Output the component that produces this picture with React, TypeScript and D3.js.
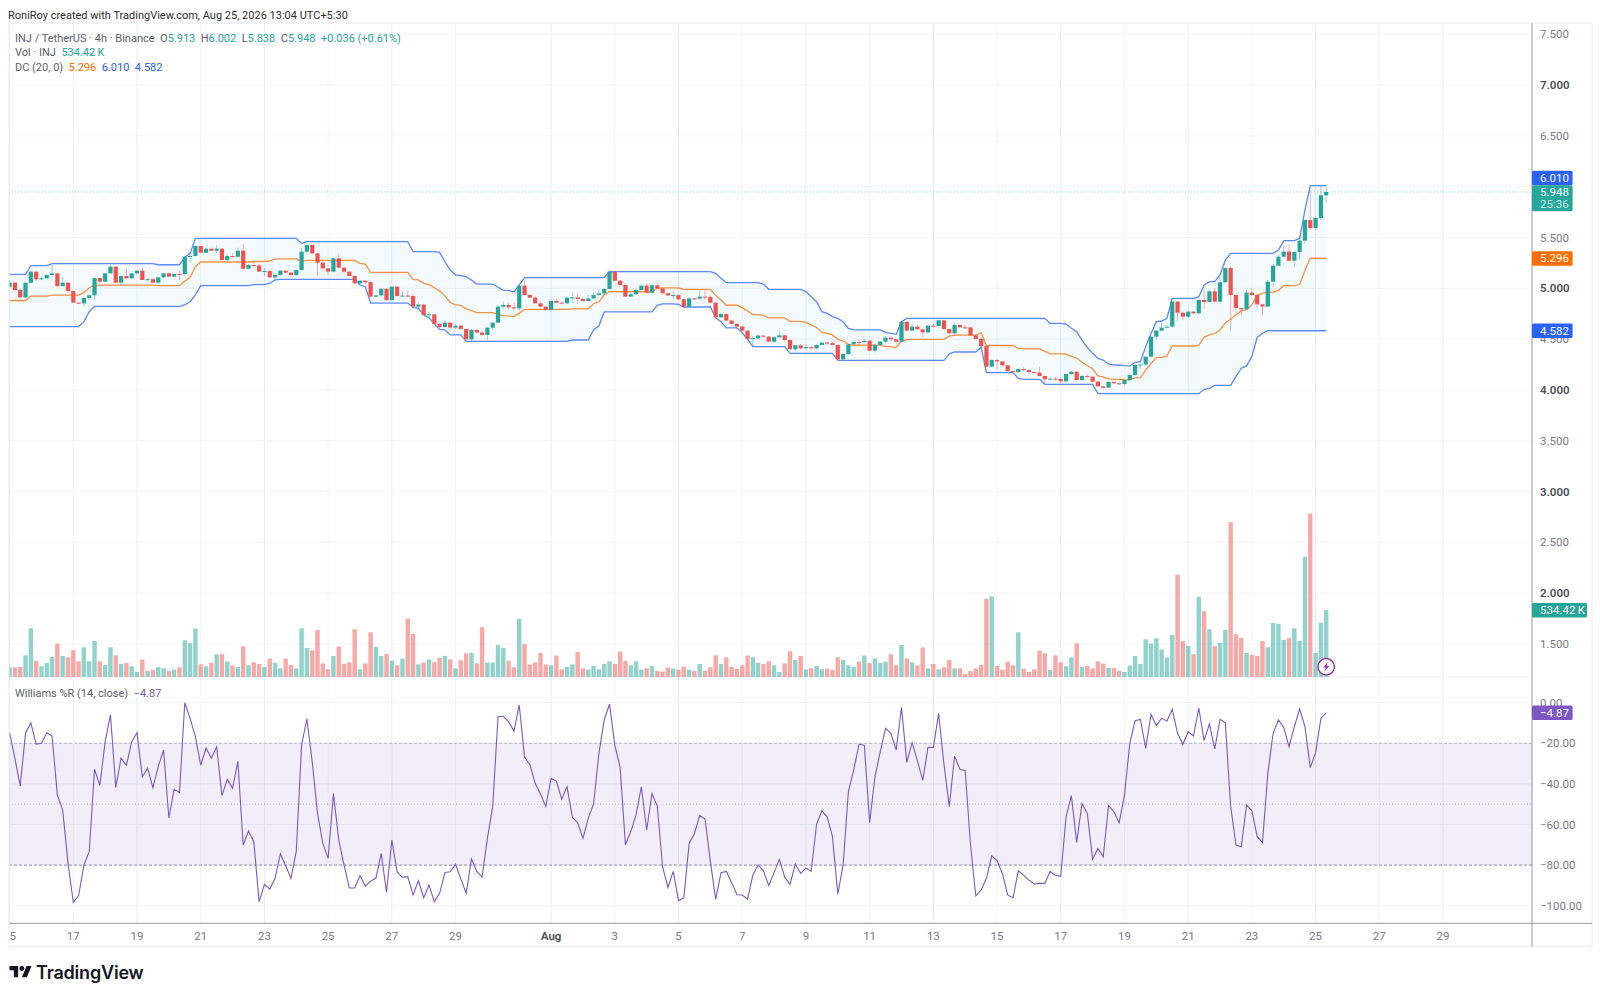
import React, { useRef, useEffect } from "react";
import * as d3 from "d3";

// 4h candles. open = previous close
const firstOpen = 5.016;
const closes = [
  5.055, 4.983, 4.911, 5.055, 5.164, 5.088, 5.098, 5.131, 5.147, 5.022,
  5.055, 4.973, 4.859, 4.852, 4.904, 4.931, 5.101, 5.065, 5.147, 5.213,
  5.055, 5.121, 5.098, 5.147, 5.173, 5.082, 5.09, 5.055, 5.108, 5.147,
  5.115, 5.141, 5.14, 5.311, 5.318, 5.416, 5.35, 5.39, 5.37, 5.39,
  5.278, 5.318, 5.31, 5.37, 5.193, 5.229, 5.225, 5.164, 5.17, 5.108,
  5.131, 5.173, 5.154, 5.131, 5.18, 5.36, 5.426, 5.344, 5.252, 5.196,
  5.164, 5.295, 5.203, 5.164, 5.121, 5.049, 5.075, 5.06, 4.918, 4.93,
  4.996, 4.885, 5.016, 4.924, 4.928, 4.925, 4.82, 4.84, 4.737, 4.744,
  4.649, 4.619, 4.662, 4.613, 4.632, 4.6, 4.498, 4.59, 4.564, 4.541,
  4.613, 4.662, 4.819, 4.836, 4.813, 4.803, 5.026, 4.934, 4.908, 4.852,
  4.819, 4.787, 4.875, 4.859, 4.852, 4.908, 4.911, 4.895, 4.875, 4.9,
  4.934, 4.95, 4.993, 5.164, 5.075, 5.033, 4.918, 4.941, 4.983, 5.026,
  4.957, 5.03, 5.0, 4.951, 4.93, 4.933, 4.892, 4.819, 4.9, 4.898,
  4.918, 4.915, 4.859, 4.714, 4.747, 4.682, 4.649, 4.623, 4.583, 4.501,
  4.51, 4.534, 4.524, 4.475, 4.518, 4.537, 4.491, 4.4, 4.439, 4.409,
  4.42, 4.409, 4.442, 4.465, 4.46, 4.442, 4.301, 4.353, 4.448, 4.471,
  4.47, 4.484, 4.386, 4.442, 4.475, 4.514, 4.498, 4.475, 4.671, 4.583,
  4.622, 4.596, 4.566, 4.632, 4.63, 4.685, 4.599, 4.557, 4.639, 4.616,
  4.615, 4.537, 4.501, 4.432, 4.229, 4.294, 4.281, 4.242, 4.186, 4.176,
  4.206, 4.196, 4.176, 4.17, 4.137, 4.104, 4.11, 4.107, 4.084, 4.156,
  4.179, 4.097, 4.137, 4.13, 4.081, 4.035, 4.022, 4.078, 4.065, 4.058,
  4.097, 4.147, 4.245, 4.25, 4.327, 4.524, 4.583, 4.613, 4.623, 4.869,
  4.76, 4.721, 4.77, 4.754, 4.885, 4.865, 4.97, 4.869, 5.059, 5.2,
  4.934, 4.806, 4.793, 4.957, 4.934, 4.842, 4.82, 5.065, 5.223, 5.311,
  5.361, 5.272, 5.357, 5.469, 5.672, 5.593, 5.692, 5.915, 5.948,
];
const highs = [
  5.08, 5.06, 4.99, 5.06, 5.17, 5.165, 5.115, 5.14, 5.23, 5.15,
  5.11, 5.06, 4.975, 4.86, 4.905, 4.94, 5.105, 5.105, 5.15, 5.23,
  5.215, 5.125, 5.19, 5.15, 5.18, 5.2, 5.1, 5.1, 5.11, 5.15,
  5.155, 5.145, 5.17, 5.315, 5.36, 5.42, 5.42, 5.395, 5.4, 5.425,
  5.395, 5.33, 5.345, 5.4, 5.435, 5.24, 5.27, 5.24, 5.2, 5.18,
  5.14, 5.18, 5.175, 5.16, 5.185, 5.4, 5.43, 5.43, 5.35, 5.27,
  5.2, 5.3, 5.345, 5.21, 5.17, 5.13, 5.08, 5.08, 5.07, 4.94,
  5.0, 5.0, 5.02, 5.02, 4.97, 4.98, 4.945, 4.86, 4.84, 4.77,
  4.745, 4.655, 4.69, 4.665, 4.65, 4.64, 4.6, 4.6, 4.6, 4.58,
  4.62, 4.665, 4.825, 4.87, 4.86, 4.86, 5.03, 5.08, 4.94, 4.92,
  4.86, 4.825, 4.885, 4.9, 4.87, 4.915, 4.96, 4.95, 4.91, 4.935,
  4.96, 4.99, 5.0, 5.17, 5.17, 5.08, 5.04, 4.96, 5.0, 5.04,
  5.05, 5.04, 5.05, 5.01, 4.96, 4.97, 4.94, 4.895, 4.91, 4.91,
  4.98, 4.98, 4.93, 4.865, 4.76, 4.75, 4.69, 4.66, 4.63, 4.59,
  4.53, 4.55, 4.54, 4.53, 4.525, 4.58, 4.54, 4.495, 4.44, 4.45,
  4.45, 4.43, 4.45, 4.475, 4.475, 4.47, 4.445, 4.36, 4.455, 4.485,
  4.5, 4.5, 4.49, 4.45, 4.48, 4.53, 4.525, 4.5, 4.68, 4.675,
  4.665, 4.64, 4.6, 4.635, 4.65, 4.69, 4.69, 4.6, 4.66, 4.645,
  4.64, 4.62, 4.55, 4.52, 4.44, 4.3, 4.3, 4.285, 4.25, 4.195,
  4.21, 4.225, 4.2, 4.18, 4.23, 4.14, 4.13, 4.13, 4.115, 4.16,
  4.19, 4.18, 4.145, 4.15, 4.135, 4.085, 4.04, 4.085, 4.08, 4.08,
  4.1, 4.15, 4.25, 4.26, 4.33, 4.53, 4.59, 4.66, 4.64, 4.88,
  4.87, 4.77, 4.775, 4.775, 4.89, 4.98, 4.985, 5.0, 5.11, 5.205,
  5.215, 4.935, 4.81, 4.99, 5.0, 4.945, 4.85, 5.085, 5.24, 5.33,
  5.42, 5.43, 5.365, 5.52, 5.68, 5.965, 5.7, 6.01, 6.002,
];
const lows = [
  5.0, 4.97, 4.9, 4.905, 5.05, 5.07, 5.08, 5.09, 5.115, 5.015,
  5.02, 4.965, 4.855, 4.845, 4.825, 4.885, 4.885, 5.06, 5.06, 5.145,
  5.05, 5.03, 5.09, 5.095, 5.14, 5.08, 5.07, 5.05, 5.05, 5.1,
  5.11, 5.11, 5.08, 5.12, 5.25, 5.315, 5.345, 5.345, 5.365, 5.345,
  5.27, 5.265, 5.3, 5.305, 5.19, 5.19, 5.215, 5.16, 5.13, 5.1,
  5.09, 5.125, 5.15, 5.12, 5.12, 5.175, 5.35, 5.335, 5.12, 5.185,
  5.13, 5.155, 5.19, 5.15, 5.11, 5.04, 5.04, 5.05, 4.91, 4.91,
  4.92, 4.875, 4.88, 4.915, 4.92, 4.91, 4.815, 4.8, 4.73, 4.7,
  4.64, 4.61, 4.61, 4.605, 4.6, 4.59, 4.49, 4.48, 4.555, 4.535,
  4.49, 4.59, 4.66, 4.8, 4.79, 4.79, 4.78, 4.93, 4.9, 4.85,
  4.81, 4.78, 4.77, 4.85, 4.84, 4.85, 4.85, 4.85, 4.87, 4.87,
  4.895, 4.92, 4.93, 4.99, 5.07, 5.03, 4.915, 4.92, 4.94, 4.98,
  4.95, 4.95, 4.995, 4.945, 4.925, 4.89, 4.885, 4.81, 4.81, 4.89,
  4.89, 4.885, 4.855, 4.71, 4.71, 4.675, 4.645, 4.615, 4.575, 4.495,
  4.42, 4.5, 4.51, 4.47, 4.465, 4.51, 4.485, 4.39, 4.385, 4.4,
  4.4, 4.39, 4.4, 4.44, 4.44, 4.435, 4.295, 4.295, 4.345, 4.44,
  4.44, 4.46, 4.38, 4.37, 4.43, 4.46, 4.47, 4.46, 4.47, 4.58,
  4.58, 4.59, 4.52, 4.56, 4.61, 4.63, 4.595, 4.55, 4.55, 4.61,
  4.6, 4.53, 4.495, 4.425, 4.225, 4.225, 4.2, 4.235, 4.18, 4.17,
  4.165, 4.185, 4.155, 4.16, 4.13, 4.065, 4.1, 4.1, 4.06, 4.08,
  4.15, 4.09, 4.09, 4.12, 4.075, 4.03, 4.015, 4.02, 4.055, 4.05,
  4.05, 4.09, 4.14, 4.21, 4.235, 4.32, 4.5, 4.58, 4.61, 4.62,
  4.68, 4.69, 4.715, 4.745, 4.74, 4.8, 4.865, 4.86, 4.85, 5.05,
  4.59, 4.75, 4.73, 4.79, 4.93, 4.8, 4.74, 4.82, 5.01, 5.22,
  5.35, 5.265, 5.21, 5.285, 5.44, 5.58, 5.58, 5.67, 5.838,
];
// Donchian channel, 20
const dcUpper = [
  5.137, 5.137, 5.137, 5.137, 5.223, 5.223, 5.223, 5.223, 5.242, 5.242,
  5.242, 5.242, 5.242, 5.242, 5.242, 5.242, 5.242, 5.242, 5.242, 5.242,
  5.242, 5.242, 5.242, 5.242, 5.242, 5.242, 5.242, 5.242, 5.232, 5.232,
  5.232, 5.232, 5.232, 5.305, 5.344, 5.492, 5.492, 5.492, 5.492, 5.492,
  5.492, 5.492, 5.492, 5.492, 5.492, 5.492, 5.492, 5.492, 5.492, 5.492,
  5.492, 5.492, 5.492, 5.492, 5.492, 5.442, 5.459, 5.459, 5.459, 5.459,
  5.459, 5.459, 5.459, 5.459, 5.459, 5.459, 5.459, 5.459, 5.459, 5.459,
  5.459, 5.459, 5.459, 5.459, 5.459, 5.459, 5.36, 5.36, 5.36, 5.36,
  5.36, 5.354, 5.262, 5.18, 5.131, 5.125, 5.115, 5.082, 5.042, 5.042,
  5.042, 5.042, 5.01, 4.983, 4.98, 4.964, 5.033, 5.105, 5.105, 5.105,
  5.105, 5.105, 5.105, 5.105, 5.105, 5.105, 5.105, 5.105, 5.105, 5.105,
  5.105, 5.105, 5.105, 5.164, 5.164, 5.164, 5.164, 5.164, 5.164, 5.164,
  5.164, 5.164, 5.164, 5.164, 5.164, 5.164, 5.164, 5.164, 5.164, 5.164,
  5.164, 5.164, 5.164, 5.148, 5.098, 5.056, 5.056, 5.056, 5.056, 5.056,
  5.056, 5.056, 5.042, 4.99, 4.99, 4.99, 4.99, 4.99, 4.99, 4.99,
  4.967, 4.917, 4.868, 4.77, 4.753, 4.721, 4.704, 4.671, 4.606, 4.59,
  4.59, 4.59, 4.59, 4.59, 4.59, 4.566, 4.557, 4.547, 4.671, 4.704,
  4.704, 4.704, 4.704, 4.704, 4.704, 4.704, 4.704, 4.704, 4.704, 4.704,
  4.704, 4.704, 4.704, 4.704, 4.704, 4.704, 4.704, 4.704, 4.704, 4.704,
  4.704, 4.704, 4.704, 4.704, 4.704, 4.704, 4.655, 4.655, 4.655, 4.648,
  4.606, 4.573, 4.491, 4.419, 4.36, 4.311, 4.294, 4.255, 4.245, 4.245,
  4.238, 4.235, 4.272, 4.278, 4.426, 4.557, 4.672, 4.678, 4.705, 4.901,
  4.901, 4.901, 4.901, 4.901, 4.918, 5.033, 5.065, 5.065, 5.131, 5.279,
  5.344, 5.344, 5.344, 5.344, 5.344, 5.344, 5.344, 5.344, 5.344, 5.377,
  5.469, 5.469, 5.469, 5.492, 5.771, 6.01, 6.01, 6.01, 6.01,
];
const dcMiddle = [
  4.88, 4.88, 4.88, 4.88, 4.923, 4.923, 4.923, 4.923, 4.932, 4.932,
  4.932, 4.932, 4.932, 4.932, 4.957, 5.006, 5.032, 5.032, 5.032, 5.032,
  5.032, 5.032, 5.032, 5.032, 5.032, 5.032, 5.032, 5.032, 5.027, 5.027,
  5.027, 5.027, 5.027, 5.071, 5.106, 5.213, 5.259, 5.259, 5.259, 5.259,
  5.259, 5.259, 5.259, 5.259, 5.259, 5.259, 5.264, 5.264, 5.264, 5.271,
  5.287, 5.29, 5.29, 5.29, 5.29, 5.265, 5.274, 5.274, 5.274, 5.274,
  5.274, 5.274, 5.274, 5.274, 5.274, 5.274, 5.246, 5.238, 5.157, 5.157,
  5.157, 5.157, 5.157, 5.157, 5.157, 5.157, 5.087, 5.082, 5.049, 5.036,
  5.005, 4.975, 4.926, 4.861, 4.836, 4.833, 4.797, 4.78, 4.76, 4.76,
  4.76, 4.76, 4.744, 4.731, 4.729, 4.721, 4.756, 4.792, 4.792, 4.792,
  4.792, 4.792, 4.792, 4.792, 4.792, 4.792, 4.798, 4.798, 4.798, 4.798,
  4.848, 4.867, 4.936, 4.966, 4.966, 4.966, 4.966, 4.966, 4.966, 4.966,
  4.966, 4.966, 4.999, 5.005, 5.005, 5.005, 5.003, 4.99, 4.99, 4.99,
  4.99, 4.99, 4.99, 4.93, 4.885, 4.833, 4.833, 4.833, 4.81, 4.777,
  4.741, 4.741, 4.734, 4.708, 4.708, 4.708, 4.708, 4.675, 4.675, 4.675,
  4.664, 4.639, 4.614, 4.565, 4.557, 4.541, 4.498, 4.481, 4.449, 4.441,
  4.441, 4.441, 4.441, 4.441, 4.441, 4.429, 4.424, 4.419, 4.481, 4.498,
  4.498, 4.498, 4.498, 4.498, 4.498, 4.498, 4.498, 4.529, 4.539, 4.539,
  4.539, 4.539, 4.539, 4.562, 4.437, 4.437, 4.437, 4.437, 4.437, 4.437,
  4.409, 4.404, 4.404, 4.404, 4.404, 4.38, 4.355, 4.355, 4.355, 4.352,
  4.331, 4.314, 4.273, 4.237, 4.208, 4.137, 4.129, 4.109, 4.104, 4.104,
  4.101, 4.099, 4.118, 4.121, 4.195, 4.26, 4.318, 4.321, 4.334, 4.432,
  4.432, 4.432, 4.432, 4.432, 4.441, 4.52, 4.541, 4.555, 4.588, 4.662,
  4.695, 4.737, 4.779, 4.79, 4.836, 4.931, 4.951, 4.963, 4.963, 4.98,
  5.026, 5.026, 5.026, 5.037, 5.177, 5.296, 5.296, 5.296, 5.296,
];
const dcLower = [
  4.622, 4.622, 4.622, 4.622, 4.622, 4.622, 4.622, 4.622, 4.622, 4.622,
  4.622, 4.622, 4.622, 4.622, 4.672, 4.77, 4.822, 4.822, 4.822, 4.822,
  4.822, 4.822, 4.822, 4.822, 4.822, 4.822, 4.822, 4.822, 4.822, 4.822,
  4.822, 4.822, 4.822, 4.836, 4.868, 4.934, 5.026, 5.026, 5.026, 5.026,
  5.026, 5.026, 5.026, 5.026, 5.026, 5.026, 5.036, 5.036, 5.036, 5.05,
  5.082, 5.088, 5.088, 5.088, 5.088, 5.088, 5.088, 5.088, 5.088, 5.088,
  5.088, 5.088, 5.088, 5.088, 5.088, 5.088, 5.032, 5.016, 4.855, 4.855,
  4.855, 4.855, 4.855, 4.855, 4.855, 4.855, 4.813, 4.803, 4.737, 4.711,
  4.649, 4.596, 4.59, 4.541, 4.541, 4.541, 4.478, 4.478, 4.478, 4.478,
  4.478, 4.478, 4.478, 4.478, 4.478, 4.478, 4.478, 4.478, 4.478, 4.478,
  4.478, 4.478, 4.478, 4.478, 4.478, 4.478, 4.491, 4.491, 4.491, 4.491,
  4.59, 4.629, 4.767, 4.767, 4.767, 4.767, 4.767, 4.767, 4.767, 4.767,
  4.767, 4.767, 4.833, 4.846, 4.846, 4.846, 4.842, 4.816, 4.816, 4.816,
  4.816, 4.816, 4.816, 4.711, 4.672, 4.61, 4.61, 4.61, 4.564, 4.498,
  4.426, 4.426, 4.426, 4.426, 4.426, 4.426, 4.426, 4.36, 4.36, 4.36,
  4.36, 4.36, 4.36, 4.36, 4.36, 4.36, 4.291, 4.291, 4.291, 4.291,
  4.291, 4.291, 4.291, 4.291, 4.291, 4.291, 4.291, 4.291, 4.291, 4.291,
  4.291, 4.291, 4.291, 4.291, 4.291, 4.291, 4.291, 4.353, 4.373, 4.373,
  4.373, 4.373, 4.373, 4.419, 4.17, 4.17, 4.17, 4.17, 4.17, 4.17,
  4.114, 4.104, 4.104, 4.104, 4.104, 4.055, 4.055, 4.055, 4.055, 4.055,
  4.055, 4.055, 4.055, 4.055, 4.055, 3.963, 3.963, 3.963, 3.963, 3.963,
  3.963, 3.963, 3.963, 3.963, 3.963, 3.963, 3.963, 3.963, 3.963, 3.963,
  3.963, 3.963, 3.963, 3.963, 3.963, 4.006, 4.016, 4.045, 4.045, 4.045,
  4.045, 4.13, 4.213, 4.236, 4.327, 4.518, 4.557, 4.582, 4.582, 4.582,
  4.582, 4.582, 4.582, 4.582, 4.582, 4.582, 4.582, 4.582, 4.582,
];
// volume in thousands of INJ
const volumes = [
  77, 77, 80, 173, 389, 128, 85, 112, 160, 267,
  168, 157, 213, 125, 237, 125, 288, 125, 96, 237,
  173, 104, 112, 85, 40, 139, 48, 56, 80, 69,
  48, 59, 77, 293, 269, 387, 101, 85, 115, 181,
  181, 123, 91, 80, 245, 93, 117, 104, 80, 147,
  112, 69, 147, 96, 69, 389, 232, 213, 376, 109,
  61, 168, 243, 104, 117, 381, 61, 109, 357, 240,
  168, 184, 131, 93, 147, 467, 344, 101, 115, 139,
  117, 152, 168, 141, 69, 133, 189, 192, 109, 397,
  115, 115, 256, 232, 128, 77, 464, 261, 99, 117,
  192, 99, 93, 171, 61, 80, 101, 200, 69, 59,
  88, 61, 104, 125, 104, 203, 128, 93, 125, 59,
  69, 88, 48, 43, 75, 67, 59, 83, 59, 48,
  104, 48, 77, 173, 104, 157, 80, 64, 93, 171,
  157, 112, 104, 125, 93, 40, 109, 205, 136, 168,
  59, 69, 88, 61, 67, 56, 157, 136, 93, 80,
  123, 171, 112, 147, 112, 123, 181, 93, 256, 149,
  117, 91, 235, 69, 104, 61, 77, 136, 69, 69,
  24, 48, 67, 96, 624, 643, 88, 59, 123, 93,
  357, 67, 40, 61, 211, 189, 56, 173, 117, 85,
  157, 269, 80, 88, 69, 125, 107, 72, 72, 48,
  40, 91, 168, 104, 301, 267, 309, 221, 155, 336,
  816, 285, 248, 181, 640, 525, 381, 245, 272, 376,
  1235, 341, 312, 192, 176, 168, 285, 237, 432, 424,
  296, 312, 389, 288, 960, 1304, 192, 432, 534.42,
];
const williams = [
  -14.8, -27.4, -41, -15, -9.9, -20.4, -20, -14.8, -16.4, -45.5,
  -52.9, -79, -98.4, -95, -80, -73.4, -32.8, -40.7, -19.2, -5.9,
  -41.7, -27.3, -30.9, -19.2, -14.8, -36.5, -32.3, -41.9, -31.5, -23.3,
  -56.8, -42.7, -44.3, 0, -7.7, -16.7, -30.7, -22.3, -27.4, -21.8,
  -45.8, -37.8, -42.2, -28.9, -70.1, -63.1, -68.5, -98, -89.5, -91.8,
  -86.5, -74.5, -80.3, -86.5, -73.1, -20.9, -7.9, -29.1, -54.5, -69.3,
  -76.7, -44.7, -67.7, -80, -91.3, -91.3, -85.1, -90.3, -87.9, -86.4,
  -74.2, -93.4, -67.7, -83.4, -86, -85.7, -94.7, -87.7, -96.1, -89.8,
  -98, -93.9, -83.6, -83.3, -79.6, -86.9, -93.9, -77, -83.1, -85.9,
  -66.8, -51.2, -6.9, -6.7, -9.4, -14, -1.1, -26.9, -30.5, -39.7,
  -45, -51.2, -37.3, -38.6, -47.5, -41.4, -56.5, -59.1, -66.8, -57,
  -49.9, -25, -8.5, -0.7, -20.9, -31.9, -70, -63.5, -55.3, -41.4,
  -62.7, -44.7, -50.9, -80.8, -91, -83.1, -97.5, -96.1, -69.3, -64.4,
  -55.5, -57.3, -78.3, -96.9, -83.7, -83.1, -88.7, -94.6, -94.7, -96.7,
  -84.9, -80, -82.8, -90, -83.7, -77.2, -86, -89.5, -79.5, -84.1,
  -81.4, -83.1, -59.9, -53.2, -56.2, -66, -94.3, -80, -43.8, -33.2,
  -20.5, -21, -59.1, -36.5, -24.1, -12.6, -15.1, -23.3, -2.3, -29.4,
  -19.7, -28.7, -38.1, -22, -22, -5.3, -30.4, -51.2, -26.3, -32.8,
  -33.5, -70.1, -95.2, -92.3, -86.5, -75.4, -77.8, -84.1, -94.7, -96.1,
  -82.8, -84.9, -87.4, -89.3, -89, -89, -83.1, -85.1, -85.4, -56.2,
  -45.8, -68.8, -49.6, -54.5, -77, -71.8, -75.9, -50.7, -53.7, -59.1,
  -45.5, -20, -8.9, -8.2, -22.5, -5.7, -11.3, -7.6, -9, -3.3,
  -15.1, -20.5, -14.3, -16.4, -2.6, -18.7, -10.5, -22.8, -8.2, -9.9,
  -50.9, -70.1, -71, -50.4, -53.2, -66, -68.8, -34.8, -15.1, -8.5,
  -12.2, -21.7, -11.8, -3.1, -11.8, -32, -24.6, -7.7, -4.87,
];

const dateLabels = ["15", "17", "19", "21", "23", "25", "27", "29", "Aug", "3", "5", "7", "9", "11", "13", "15", "17", "19", "21", "23", "25", "27", "29"];
const dateBars = [0, 12, 24, 36, 48, 60, 72, 84, 102, 114, 126, 138, 150, 162, 174, 186, 198, 210, 222, 234, 246, 258, 270];
const priceTicks = [7.5, 7, 6.5, 6, 5.5, 5, 4.5, 4, 3.5, 3, 2.5, 2, 1.5];
// 6.000 sits fully behind the 6.010 / 5.948 tags in the reference
const priceLabels = [7.5, 7, 6.5, 5.5, 5, 4.5, 4, 3.5, 3, 2.5, 2, 1.5];
const willTicks = [0, -20, -40, -60, -80, -100];

const GREEN = "#26a69a";
const RED = "#ef5350";
const BLUE = "#2962ff";
const ORANGE = "#ff6d00";
const PURPLE = "#7e57c2";
const AXIS_GREY = "#787b86";
const FONT = "Roboto, 'Liberation Sans', sans-serif";

const App: React.FC = () => {
  const svgRef = useRef<SVGSVGElement>(null);

  const width = 1600;
  const height = 998;

  useEffect(() => {
    if (!svgRef.current) return;
    const svg = d3.select(svgRef.current);
    svg.selectAll("*").remove();
    svg.attr("font-family", FONT);

    const left = 9;
    const axisX = 1532;
    const outerRight = 1592;
    const top = 23;
    const timeY = 923.3;
    const bottom = 946.7;
    const volBase = 677;

    const x = d3.scaleLinear().domain([0, 270]).range([9.6, 1443]);
    const y = d3.scaleLinear().domain([7.5, 1.5]).range([34.3, 643.9]);
    const yVol = d3.scaleLinear().domain([0, 534.42]).range([volBase, 610]);
    const yWill = d3.scaleLinear().domain([0, -100]).range([702.7, 905.7]);

    const opens = [firstOpen, ...closes.slice(0, -1)];

    svg.append("rect").attr("width", width).attr("height", height).attr("fill", "#fff");

    const defs = svg.append("defs");
    defs
      .append("clipPath")
      .attr("id", "plot-clip")
      .append("rect")
      .attr("x", left)
      .attr("y", top)
      .attr("width", axisX - left)
      .attr("height", timeY - top);
    defs
      .append("clipPath")
      .attr("id", "date-clip")
      .append("rect")
      .attr("x", left)
      .attr("y", timeY)
      .attr("width", axisX - left)
      .attr("height", bottom - timeY);

    const plot = svg.append("g").attr("clip-path", "url(#plot-clip)");

    // grid
    plot
      .selectAll(".vgrid")
      .data(dateBars)
      .enter()
      .append("line")
      .attr("x1", (d) => x(d))
      .attr("x2", (d) => x(d))
      .attr("y1", top)
      .attr("y2", timeY)
      .attr("stroke", (_, i) => (i % 2 === 0 ? "#e4eef5" : "#f1f5f9"));

    plot
      .selectAll(".hgrid")
      .data(priceTicks)
      .enter()
      .append("line")
      .attr("x1", left)
      .attr("x2", axisX)
      .attr("y1", (d) => y(d))
      .attr("y2", (d) => y(d))
      .attr("stroke", "#f2f5f9");

    plot
      .selectAll(".wgrid")
      .data(willTicks)
      .enter()
      .append("line")
      .attr("x1", left)
      .attr("x2", axisX)
      .attr("y1", (d) => yWill(d))
      .attr("y2", (d) => yWill(d))
      .attr("stroke", "#f0f3f8");

    plot.append("line").attr("x1", left).attr("x2", axisX).attr("y1", volBase).attr("y2", volBase).attr("stroke", "#f0f3f8");

    // volume
    const bars = d3.range(closes.length);
    plot
      .selectAll(".vol")
      .data(bars)
      .enter()
      .append("rect")
      .attr("x", (i) => x(i) - 2.2)
      .attr("width", 4.4)
      .attr("y", (i) => yVol(volumes[i]))
      .attr("height", (i) => volBase - yVol(volumes[i]))
      .attr("fill", (i) => (closes[i] >= opens[i] ? GREEN : RED))
      .attr("opacity", 0.5);

    // donchian
    const band = d3
      .area<number>()
      .x((i) => x(i))
      .y0((i) => y(dcLower[i]))
      .y1((i) => y(dcUpper[i]));
    plot.append("path").attr("d", band(bars)).attr("fill", "#2196f3").attr("opacity", 0.05);

    const dcLine = (vals: number[]) =>
      d3
        .line<number>()
        .x((i) => x(i))
        .y((i) => y(vals[i]))(bars);
    plot.append("path").attr("d", dcLine(dcUpper)).attr("fill", "none").attr("stroke", BLUE).attr("stroke-width", 1.3).attr("opacity", 0.75);
    plot.append("path").attr("d", dcLine(dcLower)).attr("fill", "none").attr("stroke", BLUE).attr("stroke-width", 1.3).attr("opacity", 0.75);
    plot.append("path").attr("d", dcLine(dcMiddle)).attr("fill", "none").attr("stroke", ORANGE).attr("stroke-width", 1.3).attr("opacity", 0.75);

    // candles
    const candle = plot
      .selectAll(".candle")
      .data(bars)
      .enter()
      .append("g")
      .attr("fill", (i) => (closes[i] >= opens[i] ? GREEN : RED))
      .attr("stroke", (i) => (closes[i] >= opens[i] ? GREEN : RED));
    candle
      .append("line")
      .attr("x1", (i) => x(i))
      .attr("x2", (i) => x(i))
      .attr("y1", (i) => y(highs[i]))
      .attr("y2", (i) => y(lows[i]))
      .attr("stroke-opacity", 0.45);
    candle
      .append("rect")
      .attr("x", (i) => x(i) - 2.1)
      .attr("width", 4.2)
      .attr("y", (i) => y(Math.max(opens[i], closes[i])))
      .attr("height", (i) => Math.max(1, Math.abs(y(opens[i]) - y(closes[i]))))
      .attr("stroke", "none");

    // last price
    plot
      .append("line")
      .attr("x1", left)
      .attr("x2", axisX)
      .attr("y1", y(closes[closes.length - 1]))
      .attr("y2", y(closes[closes.length - 1]))
      .attr("stroke", GREEN)
      .attr("stroke-opacity", 0.5)
      .attr("stroke-dasharray", "1 2");

    // williams %R
    plot
      .append("rect")
      .attr("x", left)
      .attr("width", axisX - left)
      .attr("y", yWill(-20))
      .attr("height", yWill(-80) - yWill(-20))
      .attr("fill", PURPLE)
      .attr("opacity", 0.1);
    [-20, -50, -80].forEach((lvl) => {
      plot
        .append("line")
        .attr("x1", left)
        .attr("x2", axisX)
        .attr("y1", yWill(lvl))
        .attr("y2", yWill(lvl))
        .attr("stroke", AXIS_GREY)
        .attr("stroke-opacity", lvl === -80 ? 0.8 : 0.45)
        .attr("stroke-dasharray", lvl === -50 ? "1 2" : "3 2");
    });
    plot
      .append("path")
      .attr(
        "d",
        d3
          .line<number>()
          .x((i) => x(i))
          .y((i) => yWill(williams[i]))(bars)
      )
      .attr("fill", "none")
      .attr("stroke", PURPLE)
      .attr("stroke-width", 1.1);

    // flash badge on the last volume bar
    const badge = svg.append("g").attr("transform", `translate(${x(248)},666.7)`);
    badge.append("circle").attr("r", 8.2).attr("fill", "#fff").attr("stroke", "#9c27b0").attr("stroke-width", 1.4);
    badge.append("path").attr("d", "M1.6 -4.6 L-3 0.8 L-0.4 0.8 L-1.6 4.6 L3 -0.8 L0.4 -0.8 Z").attr("fill", "#9c27b0");

    // frame
    const frame = "#e9ecf2";
    svg.append("line").attr("x1", left).attr("x2", outerRight).attr("y1", top).attr("y2", top).attr("stroke", frame);
    svg.append("line").attr("x1", left).attr("x2", left).attr("y1", top).attr("y2", bottom).attr("stroke", frame);
    svg.append("line").attr("x1", outerRight).attr("x2", outerRight).attr("y1", top).attr("y2", bottom).attr("stroke", frame);
    svg.append("line").attr("x1", left).attr("x2", outerRight).attr("y1", bottom).attr("y2", bottom).attr("stroke", frame);
    svg.append("line").attr("x1", left).attr("x2", outerRight).attr("y1", timeY).attr("y2", timeY).attr("stroke", "#9598a1");
    svg.append("line").attr("x1", axisX).attr("x2", axisX).attr("y1", top).attr("y2", bottom).attr("stroke", "#9598a1");

    // date axis
    svg
      .append("g")
      .attr("clip-path", "url(#date-clip)")
      .selectAll("text")
      .data(dateBars)
      .enter()
      .append("text")
      .attr("x", (d) => x(d))
      .attr("y", 935.5)
      .attr("dy", "0.35em")
      .attr("text-anchor", "middle")
      .attr("font-size", 11.5)
      .attr("fill", (_, i) => (dateLabels[i] === "Aug" ? "#4a4d57" : AXIS_GREY))
      .attr("font-weight", (_, i) => (dateLabels[i] === "Aug" ? 600 : 400))
      .text((_, i) => dateLabels[i]);

    // price axis
    const priceAxis = d3
      .axisRight(y)
      .tickValues(priceLabels)
      .tickSize(0)
      .tickPadding(8)
      .tickFormat((d) => (d as number).toFixed(3));
    const pa = svg.append("g").attr("transform", `translate(${axisX},0)`).call(priceAxis);
    pa.select(".domain").remove();
    pa.selectAll<SVGTextElement, number>("text")
      .attr("font-family", FONT)
      .attr("font-size", 11.5)
      .attr("font-weight", (d) => (Number.isInteger(d) ? 600 : 400))
      .attr("fill", (d) => (Number.isInteger(d) ? "#4a4d57" : AXIS_GREY));

    const willAxis = d3
      .axisRight(yWill)
      .tickValues(willTicks)
      .tickSize(0)
      .tickPadding(8)
      .tickFormat((d) => (d as number).toFixed(2).replace("-", "\u2212"));
    const wa = svg.append("g").attr("transform", `translate(${axisX},0)`).call(willAxis);
    wa.select(".domain").remove();
    wa.selectAll("text").attr("font-family", FONT).attr("font-size", 11.5).attr("fill", AXIS_GREY);

    // value tags on the axis
    const tag = (yTop: number, h: number, w: number, fill: string, lines: [string, number, string][]) => {
      svg.append("rect").attr("x", axisX).attr("y", yTop).attr("width", w).attr("height", h).attr("rx", 1.5).attr("fill", fill);
      lines.forEach(([t, ty, col]) => {
        svg
          .append("text")
          .attr("x", axisX + 8)
          .attr("y", ty)
          .attr("dy", "0.35em")
          .attr("font-size", 11.5)
          .attr("fill", col)
          .text(t);
      });
    };
    tag(170.7, 14.6, 40.6, BLUE, [["6.010", 178, "#fff"]]);
    tag(185.3, 26, 40.6, GREEN, [
      ["5.948", 192.2, "#fff"],
      ["25:36", 204.2, "#cdeeea"],
    ]);
    tag(251.3, 14.4, 40.6, ORANGE, [["5.296", 258.4, "#fff"]]);
    tag(323.6, 14.4, 40.6, BLUE, [["4.582", 330.8, "#fff"]]);
    tag(603, 14.4, 55, GREEN, [["534.42\u2009K", 610.2, "#fff"]]);
    tag(705.5, 14.6, 40.6, PURPLE, [["\u22124.87", 712.8, "#fff"]]);

    // legend
    const legendRow = (yPos: number, parts: [string, string][]) => {
      const t = svg.append("text").attr("x", 15).attr("y", yPos).attr("dy", "0.35em").attr("font-size", 11);
      parts.forEach(([s, col]) => {
        t.append("tspan").attr("fill", col).attr("xml:space", "preserve").text(s);
      });
    };
    const LEG = "#5d606b";
    legendRow(38.3, [
      ["INJ / TetherUS \u00b7 4h \u00b7 Binance  O", LEG],
      ["5.913", GREEN],
      ["  H", LEG],
      ["6.002", GREEN],
      ["  L", LEG],
      ["5.838", GREEN],
      ["  C", LEG],
      ["5.948", GREEN],
      ["  +0.036 (+0.61%)", GREEN],
    ]);
    legendRow(52.6, [
      ["Vol \u00b7 INJ  ", LEG],
      ["534.42\u2009K", GREEN],
    ]);
    legendRow(67, [
      ["DC (20, 0)  ", LEG],
      ["5.296", ORANGE],
      ["  ", LEG],
      ["6.010", BLUE],
      ["  ", LEG],
      ["4.582", BLUE],
    ]);
    legendRow(693.3, [
      ["Williams %R (14, close)  ", LEG],
      ["\u22124.87", PURPLE],
    ]);

    // header
    svg
      .append("text")
      .attr("x", 8)
      .attr("y", 15)
      .attr("dy", "0.35em")
      .attr("font-size", 11)
      .attr("fill", "#2e2e2e")
      .text("RoniRoy created with TradingView.com, Aug 25, 2026 13:04 UTC+5:30");

    // logo
    const logo = svg.append("g").attr("transform", "translate(9.5,963.5) scale(0.62)").attr("fill", "#131722");
    logo.append("path").attr("d", "M14 22H7V11H0V4h14v18zM28 22h-8l7.5-18h8L28 22z");
    logo.append("circle").attr("cx", 20).attr("cy", 8).attr("r", 4);
    svg
      .append("text")
      .attr("x", 36)
      .attr("y", 973)
      .attr("dy", "0.35em")
      .attr("font-family", "Inter, sans-serif")
      .attr("font-size", 18)
      .attr("font-weight", 600)
      .attr("letter-spacing", -0.2)
      .attr("fill", "#131722")
      .text("TradingView");
  }, []);

  return <svg ref={svgRef} width={width} height={height} style={{ position: "absolute", left: 0, top: 0 }}></svg>;
};

export default App;
